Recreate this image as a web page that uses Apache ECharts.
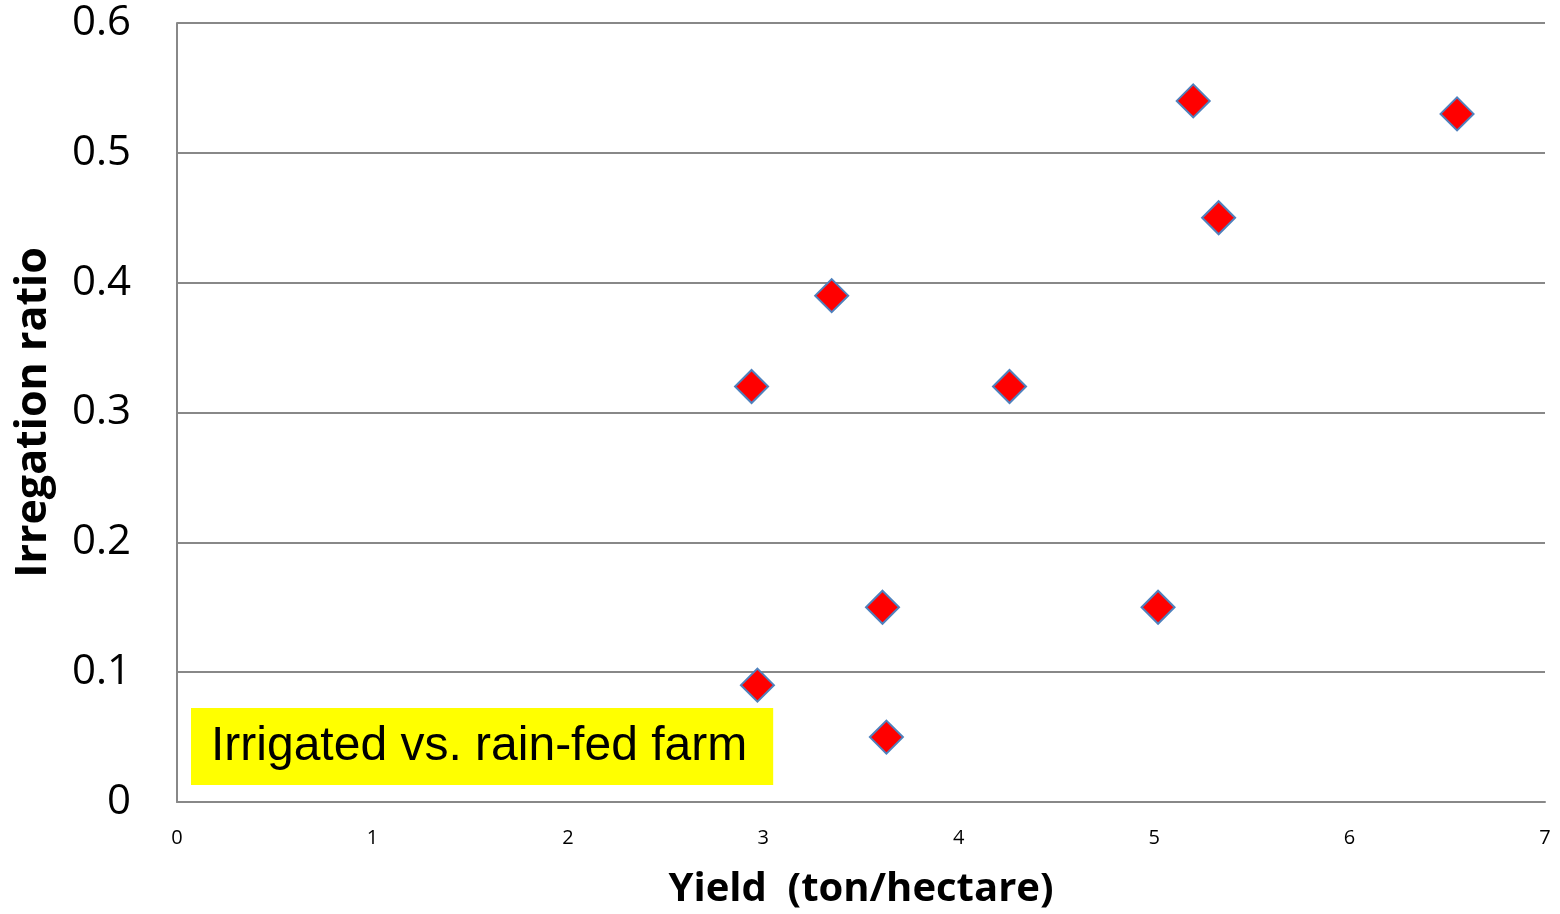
<!DOCTYPE html>
<html><head><meta charset="utf-8">
<script src="https://cdn.jsdelivr.net/npm/echarts@6/dist/echarts.min.js"></script>
<style>html,body{margin:0;padding:0;background:#fff}#c{width:1560px;height:914px}</style>
</head><body><div id="c"></div>
<script>
const yieldValues = [2.94, 2.97, 3.35, 3.61, 3.63, 4.26, 5.02, 5.20, 5.33, 6.55];
const irrigationRatio = [0.32, 0.09, 0.39, 0.15, 0.05, 0.32, 0.15, 0.54, 0.45, 0.53];
const xTitle = 'Yield  (ton/hectare)';
const yTitle = 'Irregation ratio';
const boxLabel = 'Irrigated vs. rain-fed farm';

const points = yieldValues.map((x, i) => [x, irrigationRatio[i]]);
const chart = echarts.init(document.getElementById('c'));
chart.setOption({
  animation: false,
  backgroundColor: '#fff',
  title: {
    text: boxLabel,
    left: 191, top: 708,
    backgroundColor: '#ffff00',
    padding: [14, 26, 14, 20],
    textStyle: { fontFamily: 'Liberation Sans', fontSize: 48, fontWeight: 'normal', color: '#000', lineHeight: 49 }
  },
  grid: { left: 177, right: 15, top: 23, bottom: 112, outerBoundsMode: 'none', containLabel: false },
  xAxis: {
    type: 'value', min: 0, max: 7, interval: 1,
    name: xTitle, nameLocation: 'middle', nameGap: 68,
    nameTextStyle: { fontFamily: 'Open Sans', fontSize: 40, fontWeight: 'bold', color: '#000' },
    axisLine: { show: true, lineStyle: { color: '#888', width: 2 } },
    axisTick: { show: false },
    splitLine: { show: false },
    axisLabel: { fontFamily: 'Open Sans', fontSize: 20, color: '#000', margin: 26 }
  },
  yAxis: {
    type: 'value', min: 0, max: 0.6, interval: 0.1,
    name: yTitle, nameLocation: 'middle', nameGap: 122,
    nameTextStyle: { fontFamily: 'Open Sans', fontSize: 43, fontWeight: 'bold', color: '#000' },
    axisLine: { show: true, lineStyle: { color: '#888', width: 2 } },
    axisTick: { show: false },
    splitLine: { show: true, lineStyle: { color: '#888', width: 2 } },
    axisLabel: { fontFamily: 'Open Sans', fontSize: 42, color: '#000', margin: 46,
      formatter: v => (Math.round(v * 10) / 10).toString() }
  },
  series: [{
    type: 'scatter',
    data: points,
    symbol: 'diamond',
    symbolSize: [33, 33],
    itemStyle: { color: '#ff0000', borderColor: '#4f81bd', borderWidth: 2, opacity: 1 }
  }]
});
</script></body></html>
